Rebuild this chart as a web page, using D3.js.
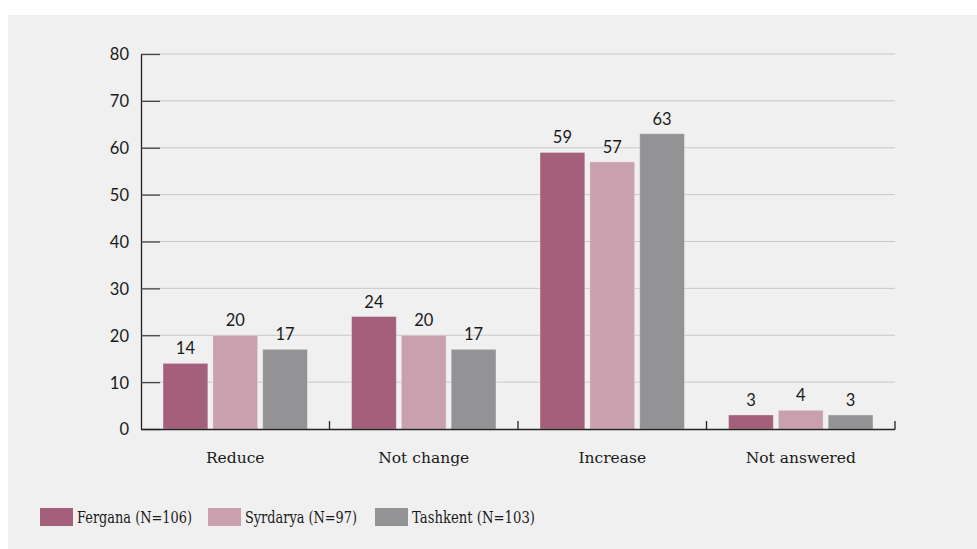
<!DOCTYPE html>
<html>
<head>
<meta charset="utf-8">
<script src="https://cdn.jsdelivr.net/npm/d3@7"></script>
<style>
  html, body { margin: 0; padding: 0; background: #ffffff; }
  svg { display: block; }
</style>
</head>
<body>
<div id="chart"></div>
<script>
// Survey answers by region (percent)
const categories = ["Reduce", "Not change", "Increase", "Not answered"];
const seriesNames = ["Fergana (N=106)", "Syrdarya (N=97)", "Tashkent (N=103)"];
const fergana  = [14, 24, 59, 3];
const syrdarya = [20, 20, 57, 4];
const tashkent = [17, 17, 63, 3];
const yTicks = [0, 10, 20, 30, 40, 50, 60, 70, 80];
const colors = ["#a45f7a", "#c9a1ae", "#939396"];

const series = [fergana, syrdarya, tashkent];

const W = 977, H = 549;
const margin = { left: 141, right: 82, top: 54, bottom: 120 };

const svg = d3.select("#chart").append("svg")
  .attr("width", W).attr("height", H);

// panel background
svg.append("rect")
  .attr("x", 8).attr("y", 15)
  .attr("width", W - 8).attr("height", H - 15)
  .attr("fill", "#f0f0f0");

const x0 = d3.scaleBand()
  .domain(categories)
  .range([margin.left, W - margin.right])
  .paddingInner(0)
  .paddingOuter(0);

const x1 = d3.scaleBand()
  .domain(d3.range(series.length))
  .range([22, x0.bandwidth() - 22])
  .paddingInner(0.1);

const y = d3.scaleLinear()
  .domain([0, 80])
  .range([H - margin.bottom, margin.top]);

const numFont = "Lato, 'DejaVu Sans', sans-serif";
const textFont = "'DejaVu Serif', serif";

// gridlines
svg.append("g").selectAll("line")
  .data(yTicks.filter(d => d > 0))
  .join("line")
  .attr("x1", margin.left).attr("x2", W - margin.right)
  .attr("y1", d => y(d)).attr("y2", d => y(d))
  .attr("stroke", "#c8c8c8").attr("stroke-width", 1);

// y axis
const yAxis = svg.append("g")
  .attr("transform", `translate(${margin.left},0)`)
  .call(d3.axisRight(y).tickValues(yTicks).tickSize(19).tickFormat(d3.format("d")));
yAxis.select(".domain").attr("stroke", "#222").attr("stroke-width", 1.3)
  .attr("d", `M0.5,${y(80)}V${y(0)}`);
yAxis.selectAll(".tick line").attr("stroke", "#444").attr("stroke-width", 1.3);
yAxis.selectAll(".tick text")
  .attr("x", -12).attr("text-anchor", "end").attr("dy", "0.36em")
  .attr("font-family", numFont).attr("font-size", 16.5).attr("fill", "#1a1a1a");

// bars
const groups = svg.append("g").selectAll("g")
  .data(categories)
  .join("g")
  .attr("transform", d => `translate(${x0(d)},0)`);

groups.selectAll("rect")
  .data((c, ci) => series.map((s, si) => ({ si, v: s[ci] })))
  .join("rect")
  .attr("x", d => x1(d.si))
  .attr("width", x1.bandwidth())
  .attr("y", d => y(d.v))
  .attr("height", d => y(0) - y(d.v))
  .attr("fill", d => colors[d.si])
  .attr("stroke", "rgba(255,255,255,0.35)")
  .attr("stroke-width", 1);

groups.selectAll("text.val")
  .data((c, ci) => series.map((s, si) => ({ si, v: s[ci] })))
  .join("text")
  .attr("class", "val")
  .attr("x", d => x1(d.si) + x1.bandwidth() / 2)
  .attr("y", d => y(d.v) - 9)
  .attr("text-anchor", "middle")
  .attr("font-family", numFont).attr("font-size", 16.5).attr("fill", "#1a1a1a")
  .text(d => d.v);

// x axis
const xAxis = svg.append("g")
  .attr("transform", `translate(0,${y(0)})`);
xAxis.append("line")
  .attr("x1", margin.left).attr("x2", W - margin.right)
  .attr("y1", 0.5).attr("y2", 0.5)
  .attr("stroke", "#222").attr("stroke-width", 1.3);
xAxis.selectAll("line.tk")
  .data(categories)
  .join("line")
  .attr("class", "tk")
  .attr("x1", d => x0(d) + x0.bandwidth()).attr("x2", d => x0(d) + x0.bandwidth())
  .attr("y1", 0.5).attr("y2", -8)
  .attr("stroke", "#222").attr("stroke-width", 1.3);
xAxis.selectAll("text")
  .data(categories)
  .join("text")
  .attr("x", d => x0(d) + x0.bandwidth() / 2)
  .attr("y", 34)
  .attr("text-anchor", "middle")
  .attr("font-family", textFont).attr("font-size", 15.5).attr("fill", "#1a1a1a")
  .text(d => d);

// legend
const legendX = [40, 208, 375];
const legendW = [115, 112, 123];
const legend = svg.append("g").selectAll("g")
  .data(seriesNames)
  .join("g")
  .attr("transform", (d, i) => `translate(${legendX[i]},508)`);
legend.append("rect")
  .attr("width", 33).attr("height", 18)
  .attr("fill", (d, i) => colors[i]);
legend.append("text")
  .attr("x", 37).attr("y", 14.5)
  .attr("font-family", textFont).attr("font-size", 16.5).attr("fill", "#1a1a1a")
  .attr("textLength", (d, i) => legendW[i])
  .attr("lengthAdjust", "spacingAndGlyphs")
  .text(d => d);
</script>
</body>
</html>
